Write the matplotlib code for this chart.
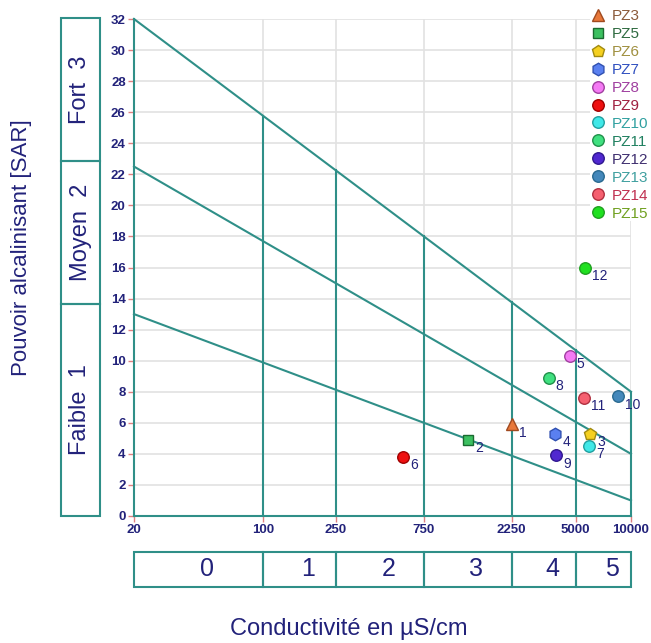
import matplotlib
matplotlib.use('Agg')
import matplotlib.pyplot as plt
from matplotlib.patches import Rectangle
from matplotlib.transforms import blended_transform_factory
import numpy as np

plt.rcParams['font.family'] = ['Liberation Sans', 'DejaVu Sans']

# 数据
puits = ['PZ3', 'PZ5', 'PZ6', 'PZ7', 'PZ8', 'PZ9', 'PZ10', 'PZ11', 'PZ12', 'PZ13', 'PZ14', 'PZ15']
numeros = ['1', '2', '3', '4', '5', '6', '7', '8', '9', '10', '11', '12']
conductivite = [2250, 1310, 6000, 3880, 4650, 580, 5940, 3570, 3920, 8470, 5530, 5650]
sar = [5.9, 4.9, 5.3, 5.3, 10.3, 3.8, 4.5, 8.9, 3.9, 7.7, 7.6, 16.0]
marqueurs = ['^', 's', 'p', 'h', 'o', 'o', 'o', 'o', 'o', 'o', 'o', 'o']
couleurs = ['#e8783a', '#3cc060', '#f5d020', '#5a80f0', '#f47af4', '#ee1010',
            '#40e8e8', '#40e080', '#5028d0', '#4488bb', '#f56070', '#20e020']
bords = ['#a04a20', '#1a6a30', '#a08a10', '#3050b0', '#a040a0', '#a00000',
         '#20a0a0', '#20904a', '#301890', '#2a6a90', '#b03040', '#20a020']
couleurs_texte = ['#8b5a3a', '#2e6a40', '#a09040', '#3050c0', '#a040a0', '#a02040',
                  '#30a0a0', '#208060', '#403070', '#40a0a0', '#c03050', '#70a020']

# limites des classes
x_limites = [20, 100, 250, 750, 2250, 5000, 10000]
classes_c = ['0', '1', '2', '3', '4', '5']
x_droites = [20, 10000]
droite_haut = [32, 8]
droite_milieu = [22.5, 4]
droite_bas = [13, 1]
classes_s = ['Faible  1', 'Moyen  2', 'Fort  3']

teal = '#2f8f88'
navy = '#22227a'
W, H = 651, 643

fig = plt.figure(figsize=(W / 100, H / 100), dpi=100)
ax = fig.add_axes([134 / W, 1 - 516 / H, 497 / W, 497 / H])
ax.set_xscale('log')
ax.set_xlim(20, 10000)
ax.set_ylim(0, 32)

# grille
ax.set_yticks(np.arange(0, 33, 2))
ax.set_xticks(x_limites)
ax.set_xticklabels([str(v) for v in x_limites])
ax.xaxis.set_minor_locator(matplotlib.ticker.NullLocator())
ax.grid(True, color='#e2e2e2', linewidth=1.2, zorder=0)
ax.set_axisbelow(True)

for s in ['top', 'right']:
    ax.spines[s].set_visible(False)
for s in ['left', 'bottom']:
    ax.spines[s].set_color(teal)
    ax.spines[s].set_linewidth(1.5)
ax.tick_params(colors='#e08080', labelcolor=navy, labelsize=9.5, length=4, width=1,
               direction='out', pad=2)
for lab in ax.get_xticklabels() + ax.get_yticklabels():
    lab.set_fontweight('bold')

# droites de classes
for yy in [droite_haut, droite_milieu, droite_bas]:
    ax.plot(x_droites, yy, color=teal, lw=1.5, zorder=2, clip_on=False)
lx = np.log10(x_droites)
for xv in x_limites[1:]:
    ytop = np.interp(np.log10(xv), lx, droite_haut)
    ax.plot([xv, xv], [0, ytop], color=teal, lw=1.5, zorder=2, clip_on=False)

# points
for i in range(len(puits)):
    taille = {'s': 6.5, 'p': 9, 'h': 9}.get(marqueurs[i], 8.3)
    ax.plot(conductivite[i], sar[i], marker=marqueurs[i], linestyle='none',
            markersize=taille,
            markerfacecolor=couleurs[i], markeredgecolor=bords[i], markeredgewidth=1,
            label=puits[i], zorder=4)
    ax.annotate(numeros[i], (conductivite[i], sar[i]), xytext=(5, -6),
                textcoords='offset points', ha='left', va='center',
                fontsize=10, color=navy, zorder=5)

leg = fig.legend(loc='upper left', bbox_to_anchor=(590 / W, 1 - 9 / H),
                 fontsize=11, frameon=True, framealpha=1, facecolor='white',
                 edgecolor='none', borderpad=0, labelspacing=0.26,
                 handlelength=1.0, handletextpad=0.4, borderaxespad=0,
                 labelcolor=couleurs_texte)

# cases de conductivite
tb = blended_transform_factory(ax.transData, fig.transFigure)
y0, y1 = 1 - 587 / H, 1 - 552 / H
for j in range(len(classes_c)):
    a, b = x_limites[j], x_limites[j + 1]
    fig.patches.append(Rectangle((a, y0), b - a, y1 - y0, transform=tb,
                                 fill=False, edgecolor=teal, lw=1.5))
    xm = np.sqrt(a * b)
    ax.annotate(classes_c[j], (xm, (y0 + y1) / 2), xycoords=tb,
                xytext=(6, 0), textcoords='offset points',
                ha='center', va='center', fontsize=18, color=navy,
                annotation_clip=False)

# cases de SAR
xs0, xs1 = 61 / W, 100 / W
bornes = [516, 304, 161, 18]
for j in range(len(classes_s)):
    yb = 1 - bornes[j] / H
    yt = 1 - bornes[j + 1] / H
    fig.patches.append(Rectangle((xs0, yb), xs1 - xs0, yt - yb, transform=fig.transFigure,
                                 fill=False, edgecolor=teal, lw=1.5))
    fig.text((xs0 + xs1) / 2, (yb + yt) / 2, classes_s[j], rotation=90,
             ha='center', va='center', fontsize=17, color=navy)

fig.text(22 / W, 1 - 248 / H, 'Pouvoir alcalinisant [SAR]', rotation=90,
         ha='center', va='center', fontsize=16, color=navy)
fig.text(349 / W, 1 - 629 / H, 'Conductivité en µS/cm',
         ha='center', va='center', fontsize=17, color=navy)

plt.savefig('out.png', dpi=100, facecolor='white')
plt.close(fig)
